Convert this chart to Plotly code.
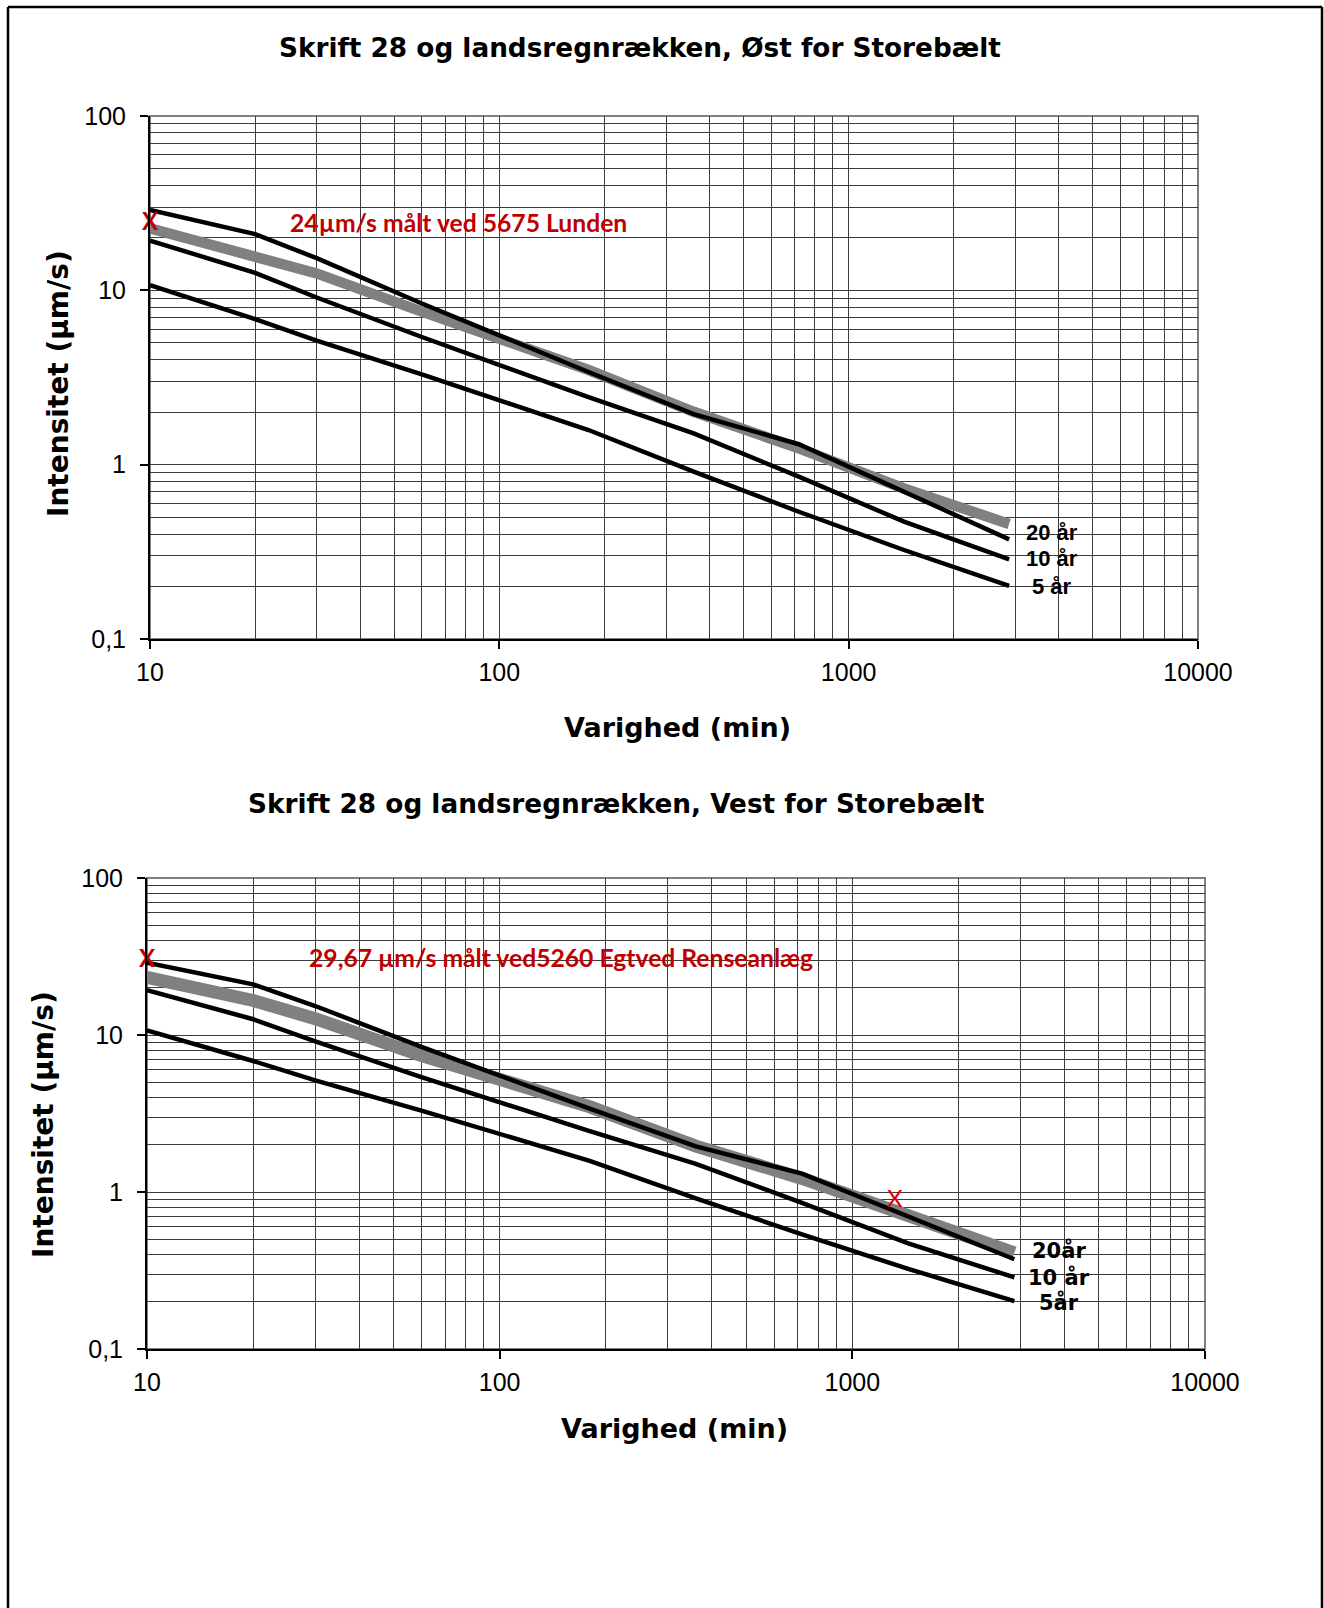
import plotly.graph_objects as go

W, H = 1324, 1608

# ---------------- data ----------------
durations = [10, 20, 30, 60, 180, 360, 720, 1440, 2880]          # minutes
t20 = [28.9, 21.0, 15.3, 8.4, 3.4, 1.95, 1.31, 0.70, 0.373]       # 20 år
t10 = [19.3, 12.6, 9.1, 5.4, 2.44, 1.51, 0.853, 0.471, 0.286]     # 10 år
t5 = [10.7, 6.83, 5.14, 3.30, 1.58, 0.912, 0.537, 0.324, 0.202]   # 5 år
gray_oest = [22.7, 15.6, 12.5, 7.55, 3.49, 2.01, 1.24, 0.73, 0.457]
gray_vest = [23.3, 16.6, 12.7, 7.4, 3.49, 1.96, 1.22, 0.70, 0.41]

oest_x_dur = [10]
oest_x_val = [24]
vest_x_dur = [10]
vest_x_val = [29.67]
vest_x2_dur = [1320]
vest_x2_val = [0.88]

x_major = [10, 100, 1000, 10000]
x_major_text = ["10", "100", "1000", "10000"]
y_major = [0.1, 1, 10, 100]
y_major_text = ["0,1", "1", "10", "100"]
x_minor = [m * d for d in (10, 100, 1000) for m in range(2, 10)]
y_minor = [m * d for d in (0.1, 1, 10) for m in range(2, 10)]

titles = ["Skrift 28 og landsregnrækken, Øst for Storebælt",
          "Skrift 28 og landsregnrækken, Vest for Storebælt"]
notes = ["24µm/s målt ved 5675 Lunden",
         "29,67 µm/s målt ved5260 Egtved Renseanlæg"]
labels_oest = ["20 år", "10 år", "5 år"]
labels_vest = ["20år", "10 år", "5år"]

RED = "#C00000"
GRAY = "#808080"
GRID = "#3c3c3c"
TITLE_FONT = "DejaVu Sans"
TICK_FONT = "Liberation Sans, Arial"


def px(x):
    return x / W


def py(y):
    return 1 - y / H


fig = go.Figure()


def add_curves(xa, ya, gray, gray_w):
    fig.add_trace(go.Scatter(x=durations, y=gray, mode="lines", xaxis=xa, yaxis=ya,
                             line=dict(color=GRAY, width=gray_w), showlegend=False,
                             hoverinfo="skip"))
    for s in (t5, t10, t20):
        fig.add_trace(go.Scatter(x=durations, y=s, mode="lines", xaxis=xa, yaxis=ya,
                                 line=dict(color="black", width=4.5), showlegend=False,
                                 hoverinfo="skip"))


add_curves("x", "y", gray_oest, 10.5)
add_curves("x2", "y2", gray_vest, 13)

fig.add_trace(go.Scatter(x=oest_x_dur, y=oest_x_val, mode="text", text=["X"], xaxis="x", yaxis="y",
                         textfont=dict(family="Lato", size=24, color=RED, weight="bold"),
                         cliponaxis=False, showlegend=False))
fig.add_trace(go.Scatter(x=vest_x_dur, y=vest_x_val, mode="text", text=["X"], xaxis="x2", yaxis="y2",
                         textfont=dict(family="Lato", size=24, color=RED, weight="bold"),
                         cliponaxis=False, showlegend=False))
fig.add_trace(go.Scatter(x=vest_x2_dur, y=vest_x2_val, mode="text", text=["X"], xaxis="x2", yaxis="y2",
                         textfont=dict(family="Lato", size=24, color="#E00000"),
                         cliponaxis=False, showlegend=False))


def xaxis_cfg(domain, anchor):
    return dict(type="log", range=[1, 4], domain=domain, anchor=anchor, automargin=False,
                tickvals=x_major, ticktext=x_major_text, ticks="outside", ticklen=8,
                tickwidth=1.5, tickcolor="black", showline=True, linecolor="black",
                linewidth=2, showgrid=True, gridcolor=GRID, gridwidth=1, zeroline=False,
                minor=dict(tickvals=x_minor, showgrid=True, gridcolor=GRID, gridwidth=1, ticks=""),
                tickfont=dict(family=TICK_FONT, size=25, color="black"),
                ticklabelstandoff=2)


def yaxis_cfg(domain, anchor):
    return dict(type="log", range=[-1, 2], domain=domain, anchor=anchor, automargin=False,
                tickvals=y_major, ticktext=y_major_text, ticks="outside", ticklen=8,
                tickwidth=1.5, tickcolor="black", showline=True, linecolor="black",
                linewidth=2, showgrid=True, gridcolor=GRID, gridwidth=1, zeroline=False,
                minor=dict(tickvals=y_minor, showgrid=True, gridcolor=GRID, gridwidth=1, ticks=""),
                tickfont=dict(family=TICK_FONT, size=25, color="black"),
                ticklabelstandoff=9)


top_x = [px(150), px(1198)]
top_y = [py(639), py(116)]
bot_x = [px(147), px(1205)]
bot_y = [py(1349), py(878)]

shapes = []
for xd, yd in ((top_x, top_y), (bot_x, bot_y)):
    shapes.append(dict(type="rect", xref="paper", yref="paper", x0=xd[0], x1=xd[1], y0=yd[0], y1=yd[1],
                       line=dict(color=GRAY, width=2), layer="below"))
# page frame
shapes.append(dict(type="line", xref="paper", yref="paper", x0=px(8), x1=px(8), y0=0, y1=py(7),
                   line=dict(color="black", width=2.5)))
shapes.append(dict(type="line", xref="paper", yref="paper", x0=px(1322), x1=px(1322), y0=0, y1=py(7),
                   line=dict(color="black", width=2.5)))
shapes.append(dict(type="line", xref="paper", yref="paper", x0=px(8), x1=px(1322), y0=py(7), y1=py(7),
                   line=dict(color="black", width=2.5)))

ann = []


def add_text(text, x, y, size, family, color="black", bold=True, angle=0, xanchor="center"):
    ann.append(dict(text=text, x=px(x), y=py(y), xref="paper", yref="paper", showarrow=False,
                    xanchor=xanchor, yanchor="middle", textangle=angle,
                    font=dict(family=family, size=size, color=color, weight="bold" if bold else "normal")))


add_text(titles[0], 640, 48, 26.3, TITLE_FONT)
add_text(titles[1], 616, 804, 26.3, TITLE_FONT)
add_text("Varighed (min)", 677, 727, 27, TITLE_FONT)
add_text("Varighed (min)", 674, 1428, 27, TITLE_FONT)
add_text("Intensitet (µm/s)", 58, 384, 28, TITLE_FONT, angle=-90)
add_text("Intensitet (µm/s)", 43, 1125, 28, TITLE_FONT, angle=-90)
add_text(notes[0], 458, 222, 24.7, "Lato", color=RED)
add_text(notes[1], 561, 957, 24.7, "Lato", color=RED)
for lab, yy in zip(labels_oest, (532, 559, 586)):
    add_text(lab, 1052, yy, 22, "Liberation Sans, Arial")
for lab, yy in zip(labels_vest, (1250, 1277, 1302)):
    add_text(lab, 1059, yy, 21, "DejaVu Sans")

fig.update_layout(
    template="none",
    width=W, height=H, autosize=False,
    margin=dict(l=0, r=0, t=0, b=0, pad=0, autoexpand=False),
    paper_bgcolor="white", plot_bgcolor="white",
    xaxis=xaxis_cfg(top_x, "y"), yaxis=yaxis_cfg(top_y, "x"),
    xaxis2=xaxis_cfg(bot_x, "y2"), yaxis2=yaxis_cfg(bot_y, "x2"),
    shapes=shapes, annotations=ann, showlegend=False,
)

fig.write_html(
    "out.html",
    config={"displayModeBar": False},
    post_script=("document.body.style.margin='0';document.body.style.padding='0';"
                 "document.body.style.overflow='hidden';"
                 "document.documentElement.style.overflow='hidden';"),
)
